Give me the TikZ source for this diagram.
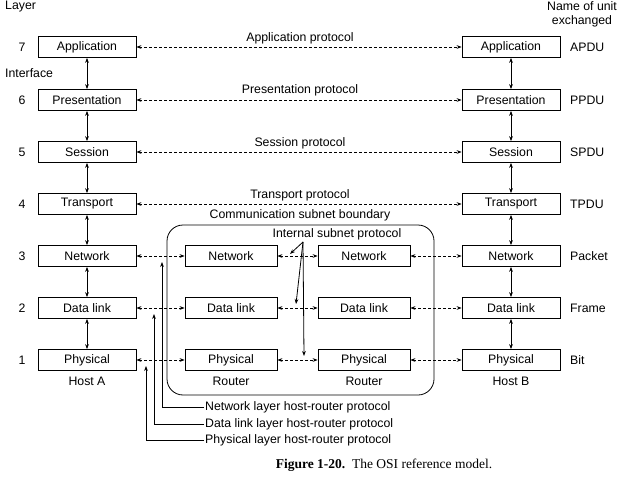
\documentclass[tikz,border=0pt]{standalone}
\usepackage{fontspec}
\setmainfont{Liberation Sans}
\newfontfamily\capfont{Liberation Serif}
\usetikzlibrary{arrows.meta}
\begin{document}
\begin{tikzpicture}[x=1pt,y=-1pt,
  lay/.style={draw,thick,minimum height=21pt,inner sep=0pt,font=\fontsize{12.3}{14}\selectfont},
  hb/.style={lay,minimum width=98pt},
  rb/.style={lay,minimum width=92pt},
  txt/.style={font=\fontsize{12.3}{14}\selectfont,inner sep=1pt},
  dd/.style={densely dashed,thick,{Stealth[length=5pt]}-{Stealth[length=5pt]}},
  vv/.style={thick,{Stealth[length=5pt]}-{Stealth[length=5pt]}},
  pa/.style={thick,-{Stealth[length=5pt]}}]
\useasboundingbox (0,0) rectangle (638,479);
\foreach \n/\t/\y/\u/\k in {7/Application/47/APDU/a,6/Presentation/100/PPDU/b,5/Session/152/SPDU/c,4/Transport/204/TPDU/d,3/Network/256/Packet/e,2/Data link/308/Frame/f,1/Physical/360/Bit/g}{
  \node[hb] (A\k) at (87,\y) {\t};
  \node[hb] (B\k) at (511,\y) {\t};
  \node[txt] (n\k) at (22,\y) {\n};
  \node[txt,anchor=west] (u\k) at (569,\y) {\u};
}
\foreach \a/\b in {a/b,b/c,c/d,d/e,e/f,f/g}{
  \draw[vv] (A\a) -- (A\b); \draw[vv] (B\a) -- (B\b);}
\node[txt,anchor=west] (layer) at (4,7) {Layer};
\node[txt,anchor=west] (intf) at (4,73) {Interface};
\node[txt,align=center] (name) at (582,14) {Name of unit\\exchanged};
\foreach \k/\t/\y in {a/Application/38,b/Presentation/90,c/Session/143,d/Transport/195}{
  \draw[dd] (A\k) -- (B\k);
  \node[txt] (p\k) at (300,\y) {\t{} protocol};}
\draw[thick,rounded corners=16pt] (167,225) rectangle (434,395);
\node[txt] (csb) at (300,215) {Communication subnet boundary};
\foreach \k/\t/\y in {e/Network/256,f/Data link/308,g/Physical/360}{
  \node[rb] (L\k) at (231,\y) {\t};
  \node[rb] (R\k) at (364,\y) {\t};
  \draw[dd] (A\k) -- (L\k);
  \draw[dd] (L\k) -- (R\k);
  \draw[dd] (R\k) -- (B\k);}
\node[txt] (Ha) at (87,381) {Host A};
\node[txt] (Hb) at (511,381) {Host B};
\node[txt] (Ra) at (231,381) {Router};
\node[txt] (Rb) at (364,381) {Router};
\node[txt] (isp) at (337,234) {Internal subnet protocol};
\coordinate (o) at (303,242);
\draw[pa] (o) -- (290,254);
\draw[pa] (o) -- (296,304);
\draw[pa] (o) -- (304,356);
\node[txt,anchor=west] (nl) at (204,407) {Network layer host-router protocol};
\node[txt,anchor=west] (dl) at (204,424) {Data link layer host-router protocol};
\node[txt,anchor=west] (pl) at (204,440) {Physical layer host-router protocol};
\draw[pa] (nl.west) -| (162,262);
\draw[pa] (dl.west) -| (154,314);
\draw[pa] (pl.west) -| (146,366);
\node[font=\capfont\fontsize{13.5}{15}\selectfont] (cap) at (384,465) {\textbf{Figure 1-20.}\enspace The OSI reference model.};
\end{tikzpicture}
\end{document}
